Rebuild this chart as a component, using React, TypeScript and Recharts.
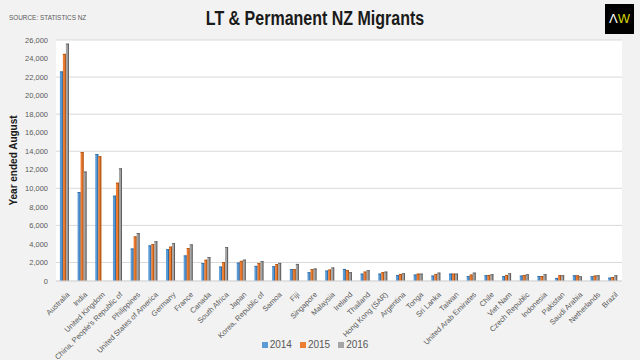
import { BarChart, Bar, XAxis, YAxis, CartesianGrid, Legend, Label } from 'recharts';

const countries = [
  'Australia', 'India', 'United Kingdom', "China, People's Republic of", 'Philippines',
  'United States of America', 'Germany', 'France', 'Canada', 'South Africa', 'Japan',
  'Korea, Republic of', 'Samoa', 'Fiji', 'Singapore', 'Malaysia', 'Ireland', 'Thailand',
  'Hong Kong (SAR)', 'Argentina', 'Tonga', 'Sri Lanka', 'Taiwan', 'United Arab Emirates',
  'Chile', 'Viet Nam', 'Czech Republic', 'Indonesia', 'Pakistan', 'Saudi Arabia',
  'Netherlands', 'Brazil',
];

const y2014 = [
  22600, 9600, 13700, 9200, 3500, 3830, 3420, 2750, 1940, 1550, 1980,
  1630, 1590, 1270, 940, 1120, 1300, 790, 790, 650, 690, 580, 790, 540,
  610, 540, 580, 540, 330, 610, 500, 360,
];

const y2015 = [
  24500, 13900, 13450, 10600, 4800, 3970, 3700, 3550, 2290, 2030, 2170,
  1920, 1810, 1270, 1270, 1230, 1170, 1010, 940, 760, 790, 760, 790, 690,
  650, 650, 650, 540, 610, 610, 580, 430,
];

const y2016 = [
  25600, 11800, null, 12150, 5170, 4280, 4080, 3940, 2570, 3650, 2300,
  2130, 1950, 1840, 1340, 1450, 940, 1160, 1010, 830, 790, 900, 790, 900,
  720, 830, 720, 720, 610, 500, 610, 610,
];

const yTicks = [0, 2000, 4000, 6000, 8000, 10000, 12000, 14000, 16000, 18000, 20000, 22000, 24000, 26000];

const data = countries.map((name, i) => ({
  name,
  '2014': y2014[i],
  '2015': y2015[i],
  '2016': y2016[i],
}));

const font = "'Liberation Sans', Arial, sans-serif";

function shade(edge: string) {
  return (props: any) => {
    const { x, y, width, height, fill } = props;
    if (!height || height <= 0) return <g />;
    return (
      <g>
        <rect x={x} y={y} width={width} height={height} fill={fill} />
        <rect x={x + width - 1} y={y} width={1} height={height} fill={edge} />
        <rect x={x} y={y} width={width} height={0.8} fill={edge} />
      </g>
    );
  };
}

function CountryTick({ x, y, payload }: any) {
  return (
    <g transform={`translate(${x + 3},${y + 4})`}>
      <text textAnchor="end" transform="rotate(-45)" fontSize={7.5} fill="#595959" fontFamily={font} dy={3}>
        {payload.value}
      </text>
    </g>
  );
}

function LegendRow({ payload }: any) {
  return (
    <div style={{ display: 'flex', justifyContent: 'center', gap: 8, fontSize: 10, color: '#595959', fontFamily: font, paddingLeft: 8 }}>
      {(payload || []).map((p: any) => (
        <span key={p.value} style={{ display: 'flex', alignItems: 'center' }}>
          <span style={{ display: 'inline-block', width: 6, height: 6, background: p.color, marginRight: 2 }} />
          {p.value}
        </span>
      ))}
    </div>
  );
}

export default function App() {
  return (
    <div style={{ position: 'absolute', left: 0, top: 0, width: 640, height: 360, background: '#f2f2f2', fontFamily: font }}>
      <BarChart
        width={640}
        height={360}
        data={data}
        margin={{ top: 40, right: 18, bottom: 4, left: 0 }}
        barCategoryGap="22%"
        barGap={0}
        style={{ position: 'absolute', left: 0, top: 0 }}
      >
        <CartesianGrid vertical={false} stroke="#d9d9d9" fill="#ffffff" />
        <XAxis
          dataKey="name"
          interval={0}
          tick={<CountryTick />}
          tickLine={false}
          axisLine={{ stroke: '#d9d9d9' }}
          height={60}
        />
        <YAxis
          domain={[0, 26000]}
          ticks={yTicks}
          width={56}
          axisLine={false}
          tickLine={false}
          tick={{ fontSize: 7.5, fill: '#595959', fontFamily: font }}
          tickFormatter={(v: number) => v.toLocaleString('en-US')}
        >
          <Label
            value="Year ended August"
            angle={-90}
            position="insideLeft"
            offset={13}
            style={{ fontSize: 10, fontWeight: 'bold', fill: '#1a1a1a', fontFamily: font, textAnchor: 'middle' }}
          />
        </YAxis>
        <Legend
          verticalAlign="bottom"
          height={15}
          content={<LegendRow />}
          wrapperStyle={{ top: 339 }}
        />
        <Bar dataKey="2014" fill="#5b9bd5" shape={shade('#2e6aa3')} isAnimationActive={false} />
        <Bar dataKey="2015" fill="#ed7d31" shape={shade('#a84f12')} isAnimationActive={false} />
        <Bar dataKey="2016" fill="#a5a5a5" shape={shade('#5f5f5f')} isAnimationActive={false} />
      </BarChart>
      <div style={{ position: 'absolute', left: 9, top: 13, fontSize: 8, color: '#595959', transform: 'scaleX(0.8)', transformOrigin: 'left top', whiteSpace: 'nowrap' }}>
        SOURCE: STATISTICS NZ
      </div>
      <div style={{ position: 'absolute', left: 0, width: 630, top: 7, textAlign: 'center', fontSize: 20, fontWeight: 'bold', color: '#1a1a1a', transform: 'scaleX(0.8)', transformOrigin: '315px 0', whiteSpace: 'nowrap' }}>
        LT &amp; Permanent NZ Migrants
      </div>
      <div style={{ position: 'absolute', left: 605, top: 4, width: 29, height: 30, background: '#000', textAlign: 'center', lineHeight: '30px', fontSize: 13 }}>
        <span style={{ color: '#fff' }}>Λ</span>
        <span style={{ color: '#d6d600' }}>W</span>
      </div>
    </div>
  );
}
